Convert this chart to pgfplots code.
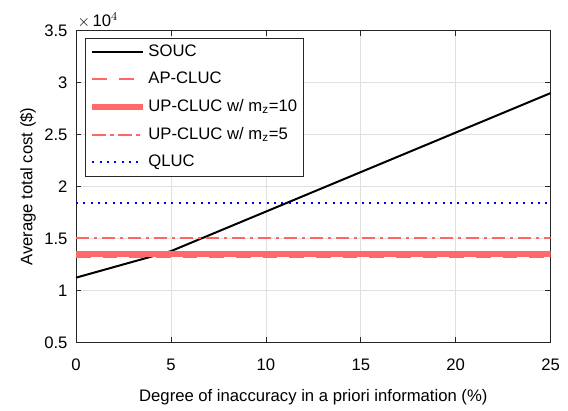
\documentclass[border=0pt]{standalone}
\usepackage{fontspec}
\setmainfont{Liberation Sans}
\usepackage{pgfplots}
\pgfplotsset{compat=1.18}
\definecolor{salmonA}{rgb}{1,0.4,0.4}
\definecolor{salmonB}{rgb}{1,0.41,0.41}
\definecolor{salmonC}{rgb}{0.99,0.4,0.4}
\definecolor{qblue}{rgb}{0,0,1}
\definecolor{axgray}{rgb}{0.15,0.15,0.15}
\definecolor{gridgray}{rgb}{0.88,0.88,0.88}
\begin{document}
\fontsize{12.5pt}{15pt}\selectfont
\begin{tikzpicture}
\begin{axis}[
  name=ax,
  scale only axis, width=356pt, height=234pt,
  xmin=0, xmax=25, ymin=0.5, ymax=3.5,
  xtick={0,5,...,25}, ytick={0.5,1,...,3.5},
  yticklabel style={/pgf/number format/fixed, /pgf/number format/precision=1, xshift=-2pt},
  xticklabel style={yshift=-8pt},
  /pgf/number format/assume math mode=true,
  tick align=inside, major tick length=4pt,
  tick style={color=axgray, line width=0.5pt},
  axis line style={color=axgray, line width=0.6pt},
  grid=major, major grid style={color=gridgray, line width=0.5pt},
  xlabel={Degree of inaccuracy in a priori information (\%)},
  ylabel={Average total cost (\$)},
  xlabel style={at={(axis description cs:0.5,-0.176)}, anchor=center},
  ylabel style={at={(axis description cs:-0.101,0.5)}, anchor=center},
  legend style={at={(0.019,0.978)}, anchor=north west, draw=axgray, line width=0.5pt,
    font=\fontsize{12.5pt}{15pt}\selectfont, row sep=6pt, inner sep=3pt},
  legend cell align=left,
  legend image code/.code={\draw[#1] (0pt,0pt) -- (38pt,0pt);},
]
\addplot[draw=black, line width=1.5pt] coordinates {(0,1.125) (5,1.38) (10,1.76) (15,2.14) (20,2.52) (25,2.9)};
\addplot[draw=salmonA, line width=1.3pt, dash pattern=on 11pt off 9pt] coordinates {(0,1.327) (25,1.327)};
\addplot[draw=salmonB, line width=4.3pt] coordinates {(0,1.35) (25,1.35)};
\addplot[draw=salmonC, line width=1.6pt, dash pattern=on 10pt off 3.5pt on 2.5pt off 3.5pt] coordinates {(0,1.51) (25,1.51)};
\addplot[draw=qblue, line width=1.3pt, dash pattern=on 1.5pt off 4pt] coordinates {(0,1.842) (25,1.842)};
\legend{SOUC, AP-CLUC, UP-CLUC w/ m$_\mathrm{z}$=10, UP-CLUC w/ m$_\mathrm{z}$=5, QLUC}
\end{axis}
\node[anchor=south west, inner sep=1pt] at ([yshift=1pt]ax.north west) {$\times\,$10$^4$};
\useasboundingbox ([xshift=-57pt,yshift=-45pt]ax.south west) rectangle ([xshift=13pt,yshift=23pt]ax.north east);
\end{tikzpicture}
\end{document}
